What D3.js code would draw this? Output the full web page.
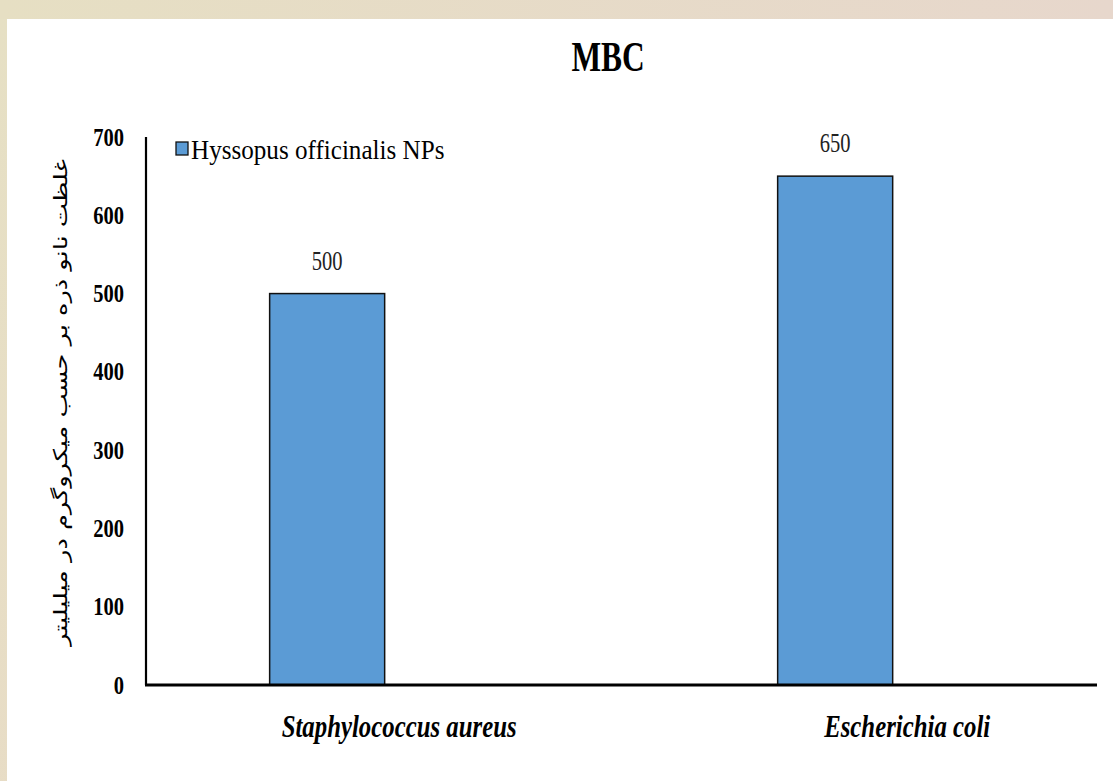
<!DOCTYPE html>
<html>
<head>
<meta charset="utf-8">
<script src="https://cdn.jsdelivr.net/npm/d3@7"></script>
<style>
  html, body { margin: 0; padding: 0; }
  body { width: 1113px; height: 781px; overflow: hidden; }
</style>
</head>
<body>
<svg id="chart" width="1113" height="781"></svg>
<script>
const title = "MBC";
const categories = ["Staphylococcus aureus", "Escherichia coli"];
const values = [500, 650];
const seriesName = "Hyssopus officinalis NPs";
const yTicks = [0, 100, 200, 300, 400, 500, 600, 700];
const yLabel = "غلظت نانو ذره بر حسب میکروگرم در میلیلیتر";

(function () {
const svg = d3.select("#chart");
const W = 1113, H = 781;

// background
const defs = svg.append("defs");
const g1 = defs.append("linearGradient").attr("id", "bg").attr("x1", 0).attr("y1", 0).attr("x2", 1).attr("y2", 1);
g1.append("stop").attr("offset", "0%").attr("stop-color", "#e6e0c4");
g1.append("stop").attr("offset", "60%").attr("stop-color", "#e8dcc6");
g1.append("stop").attr("offset", "100%").attr("stop-color", "#f2dcb8");
const g2 = defs.append("linearGradient").attr("id", "topbg").attr("x1", 0).attr("y1", 0).attr("x2", 1).attr("y2", 0);
g2.append("stop").attr("offset", "0%").attr("stop-color", "#e6dfc3");
g2.append("stop").attr("offset", "100%").attr("stop-color", "#e7d7cc");
svg.append("rect").attr("width", W).attr("height", H).attr("fill", "url(#bg)");
svg.append("rect").attr("width", W).attr("height", 19).attr("fill", "url(#topbg)");
svg.append("rect").attr("x", 7).attr("y", 19).attr("width", W - 7).attr("height", H - 19).attr("fill", "#ffffff");

const pLeft = 146, pRight = 1097, pTop = 137, pBottom = 685;

const x = d3.scaleBand().domain(categories).range([pLeft, pRight])
  .paddingInner(0.7736).paddingOuter(0.3228).align(0.377);
const y = d3.scaleLinear().domain([0, 700]).range([pBottom, pTop]);

function condense(sel, f) {
  sel.each(function () {
    const w = this.getComputedTextLength();
    d3.select(this).attr("textLength", w * f).attr("lengthAdjust", "spacingAndGlyphs");
  });
}

// bars
svg.append("g").selectAll("rect").data(values).join("rect")
  .attr("x", (d, i) => x(categories[i]))
  .attr("y", d => y(d))
  .attr("width", x.bandwidth())
  .attr("height", d => y(0) - y(d))
  .attr("fill", "#5b9bd5")
  .attr("stroke", "#111")
  .attr("stroke-width", 1.5);

// value labels
svg.append("g").selectAll("text").data(values).join("text")
  .attr("x", (d, i) => x(categories[i]) + x.bandwidth() / 2)
  .attr("y", d => y(d) - 24)
  .attr("text-anchor", "middle")
  .attr("font-family", "Liberation Serif, serif")
  .attr("font-size", 27)
  .attr("fill", "#222")
  .text(d => d)
  .call(condense, 0.76);

// y axis
const yAxis = d3.axisLeft(y).tickValues(yTicks).tickSize(0).tickPadding(22);
const ya = svg.append("g").attr("transform", `translate(${pLeft},0)`).call(yAxis);
ya.select(".domain").remove();
ya.selectAll("text")
  .attr("font-family", "Liberation Serif, serif")
  .attr("font-weight", "bold")
  .attr("font-size", 25)
  .attr("fill", "#000")
  .call(condense, 0.82);

svg.append("line").attr("x1", pLeft).attr("x2", pLeft).attr("y1", pTop).attr("y2", pBottom)
  .attr("stroke", "#000").attr("stroke-width", 2.2);

// x axis (labels sit offset to the right of the bars, as in the original)
const xAxis = d3.axisBottom(x).tickSize(0).tickPadding(30);
const xa = svg.append("g").attr("transform", `translate(0,${pBottom})`).call(xAxis);
xa.select(".domain").remove();
xa.selectAll("text")
  .attr("font-family", "Liberation Serif, serif")
  .attr("font-weight", "bold")
  .attr("font-style", "italic")
  .attr("font-size", 31)
  .attr("fill", "#000")
  .attr("dx", 72)
  .call(condense, 0.80);
svg.append("line").attr("x1", pLeft - 1).attr("x2", pRight).attr("y1", pBottom).attr("y2", pBottom)
  .attr("stroke", "#000").attr("stroke-width", 3.2);

// title
svg.append("text").attr("x", 608).attr("y", 71).attr("text-anchor", "middle")
  .attr("font-family", "Liberation Serif, serif").attr("font-weight", "bold")
  .attr("font-size", 43).attr("fill", "#000").text(title).call(condense, 0.73);

// legend
svg.append("rect").attr("x", 176).attr("y", 142).attr("width", 12).attr("height", 13)
  .attr("fill", "#5b9bd5").attr("stroke", "#111").attr("stroke-width", 1.3);
svg.append("text").attr("x", 191).attr("y", 159)
  .attr("font-family", "Liberation Serif, serif").attr("font-size", 27).attr("fill", "#000")
  .text(seriesName).call(condense, 0.93);

// y label (Persian)
svg.append("text")
  .attr("transform", `translate(67,${(155 + 650) / 2}) rotate(-90) scale(1.35,1)`)
  .attr("text-anchor", "middle")
  .attr("direction", "rtl")
  .attr("font-family", "DejaVu Sans, sans-serif")
  .attr("font-size", 19)
  .attr("fill", "#000")
  .text(yLabel);
})();
</script>
</body>
</html>
